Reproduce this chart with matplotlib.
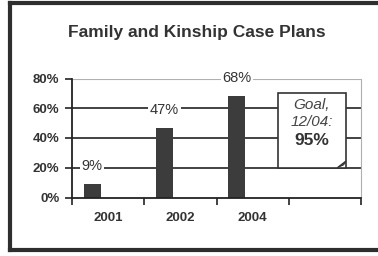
import matplotlib
matplotlib.use("Agg")
from matplotlib import pyplot as plt
from matplotlib.patches import Rectangle, Polygon
from matplotlib.lines import Line2D

plt.rcParams['font.family'] = ['Liberation Sans', 'DejaVu Sans']

years = ["2001", "2002", "2004", ""]
values = [9, 47, 68]
goal_text = ["Goal,", "12/04:", "95%"]
yticks = [0, 20, 40, 60, 80]

dark = "#2e2e2e"
bar_col = "#3c3c3c"

fig = plt.figure(figsize=(3.78, 2.56), dpi=100)
fig.patch.set_facecolor("white")

# frame round the whole chart (right side is cut off in the scan)
for xs, ys in [([10/378, 1.0], [1 - 3/256, 1 - 3/256]),
               ([10/378, 10/378], [1 - 3/256, 1 - 250/256]),
               ([10/378, 1.0], [1 - 250/256, 1 - 250/256])]:
    fig.add_artist(Line2D(xs, ys, color=dark, lw=3, transform=fig.transFigure))

fig.text(197/378, 1 - 32/256, "Family and Kinship Case Plans", ha="center", va="center",
         fontsize=12.5, fontweight="bold", color="#333333")

ax = fig.add_axes([72/378, 58.5/256, 289/378, 119/256])
ax.set_xlim(-0.5, 3.5)
ax.set_ylim(0, 80)

for y in yticks[1:4]:
    ax.axhline(y, color="#222222", lw=1.2, zorder=1)
ax.axhline(80, color="#b0b0b0", lw=0.8, zorder=1)

xs = list(range(len(values)))
ax.bar([x - 0.22 for x in xs], values, width=0.24, color=bar_col, zorder=2)

for x, v in zip(xs, values):
    ax.text(x - 0.22, v + 12, f"{v}%", ha="center", va="center", fontsize=10.5,
            color="#333333", zorder=3,
            bbox=dict(facecolor="white", edgecolor="none", pad=1.0))

# goal note
bx0, bx1, by0, by1 = 2.35, 3.29, 20, 70.5
ax.add_patch(Rectangle((bx0, by0), bx1 - bx0, by1 - by0, facecolor="white",
                       edgecolor="#333333", lw=1.2, zorder=4))
ax.add_patch(Polygon([[bx1 - 0.12, by0], [bx1, by0 + 4.5], [bx1 - 0.03, by0 + 2]],
                     closed=True, facecolor="#555555", edgecolor="#333333", lw=0.8, zorder=5))
ax.text(2.82, 62.5, goal_text[0], ha="center", va="center", fontsize=11,
        style="italic", color="#444444", zorder=6)
ax.text(2.82, 51, goal_text[1], ha="center", va="center", fontsize=11,
        style="italic", color="#444444", zorder=6)
ax.text(2.82, 38.5, goal_text[2], ha="center", va="center", fontsize=12.5,
        fontweight="bold", color="#333333", zorder=6)

ax.set_yticks(yticks)
ax.set_yticklabels([f"{t}%" for t in yticks], fontsize=9.5, fontweight="bold", color="#333333")
ax.set_xticks([-0.5, 0.5, 1.5, 2.5, 3.5])
ax.set_xticklabels([])
ax.tick_params(axis="y", length=5, width=1.2, color="#222222", pad=4)
ax.tick_params(axis="x", length=5, width=1.2, color="#222222", direction="out")
for x, lab in enumerate(years):
    ax.text(x, -13.5, lab, ha="center", va="center", fontsize=9.5, fontweight="bold",
            color="#333333")

ax.spines["left"].set_color("#222222")
ax.spines["left"].set_linewidth(1.3)
ax.spines["bottom"].set_color("#222222")
ax.spines["bottom"].set_linewidth(1.3)
ax.spines["right"].set_color("#b0b0b0")
ax.spines["right"].set_linewidth(0.8)
ax.spines["top"].set_visible(False)

fig.savefig("out.png", dpi=100)
